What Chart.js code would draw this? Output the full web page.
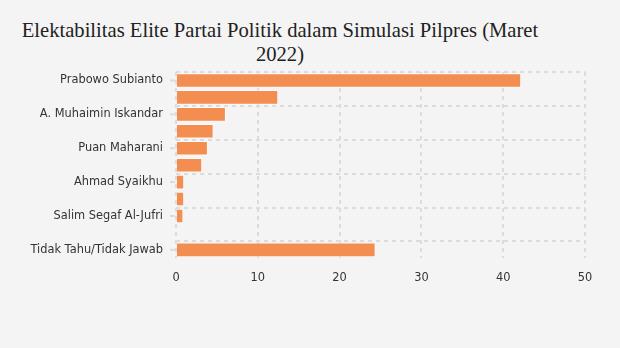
<!DOCTYPE html>
<html>
<head>
<meta charset="utf-8">
<script src="https://cdn.jsdelivr.net/npm/chart.js@4.4.0/dist/chart.umd.min.js"></script>
<style>
  html, body { margin: 0; padding: 0; background: #f4f4f4; }
  #wrap { position: relative; width: 620px; height: 348px; }
  #title { position: absolute; left: 0; top: 18px; width: 560px; text-align: center;
    font-family: "Liberation Serif", serif; font-size: 20.6px; line-height: 24px; color: #222; }
  canvas { position: absolute; left: 0; top: 0; }
</style>
</head>
<body>
<div id="wrap">
  <div id="title">Elektabilitas Elite Partai Politik dalam Simulasi Pilpres (Maret<br>2022)</div>
  <canvas id="c" width="620" height="348"></canvas>
</div>
<script>
const categories = [
  "Prabowo Subianto",
  "Agus Harimurti Yudhoyono",
  "A. Muhaimin Iskandar",
  "Airlangga Hartarto",
  "Puan Maharani",
  "Surya Paloh",
  "Ahmad Syaikhu",
  "Zulkifli Hasan",
  "Salim Segaf Al-Jufri",
  "Suharso Monoarfa",
  "Tidak Tahu/Tidak Jawab"
];
const values = [42.2, 12.5, 6.1, 4.6, 3.9, 3.2, 1.0, 1.0, 0.9, 0, 24.4];
const xTicks = [0, 10, 20, 30, 40, 50];

const gridColor = '#dcdcdc';

const yTickMarks = {
  id: 'yTickMarks',
  afterDraw(chart) {
    const y = chart.scales.y;
    const ctx = chart.ctx;
    ctx.save();
    ctx.strokeStyle = gridColor;
    ctx.lineWidth = 2;
    y.ticks.forEach((t, i) => {
      if (i % 2) return;
      const py = y.getPixelForTick(i);
      ctx.beginPath();
      ctx.moveTo(y.right - 6, py);
      ctx.lineTo(y.right - 1, py);
      ctx.stroke();
    });
    ctx.restore();
  }
};

new Chart(document.getElementById('c'), {
  type: 'bar',
  data: {
    labels: categories,
    datasets: [{
      data: values,
      backgroundColor: '#f38d50',
      borderColor: 'rgba(255,255,255,0.6)',
      borderWidth: 1,
      barPercentage: 0.86,
      categoryPercentage: 1
    }]
  },
  options: {
    indexAxis: 'y',
    responsive: false,
    animation: false,
    layout: { padding: { top: 72, right: 35, bottom: 50, left: 0 } },
    plugins: { legend: { display: false }, tooltip: { enabled: false } },
    scales: {
      x: {
        min: 0, max: 50,
        afterBuildTicks(scale) { scale.ticks = xTicks.map(v => ({ value: v })); },
        border: { display: false, dash: [4, 4] },
        grid: { color: gridColor, lineWidth: 2, drawTicks: false },
        ticks: { padding: 13, color: '#333', font: { family: 'DejaVu Sans', size: 11.4 } }
      },
      y: {
        afterFit(scale) { scale.width = 176; },
        border: { display: false, dash: [4, 4] },
        grid: {
          offset: true,
          drawTicks: false,
          lineWidth: 2,
          color: ctx => (ctx.index % 2 === 0 ? gridColor : 'rgba(0,0,0,0)')
        },
        ticks: {
          autoSkip: false,
          padding: 13,
          color: '#333',
          font: { family: 'DejaVu Sans', size: 11.4 },
          callback: function (v, i) { return i % 2 === 0 ? this.getLabelForValue(v) : ''; }
        }
      }
    }
  },
  plugins: [yTickMarks]
});
</script>
</body>
</html>
